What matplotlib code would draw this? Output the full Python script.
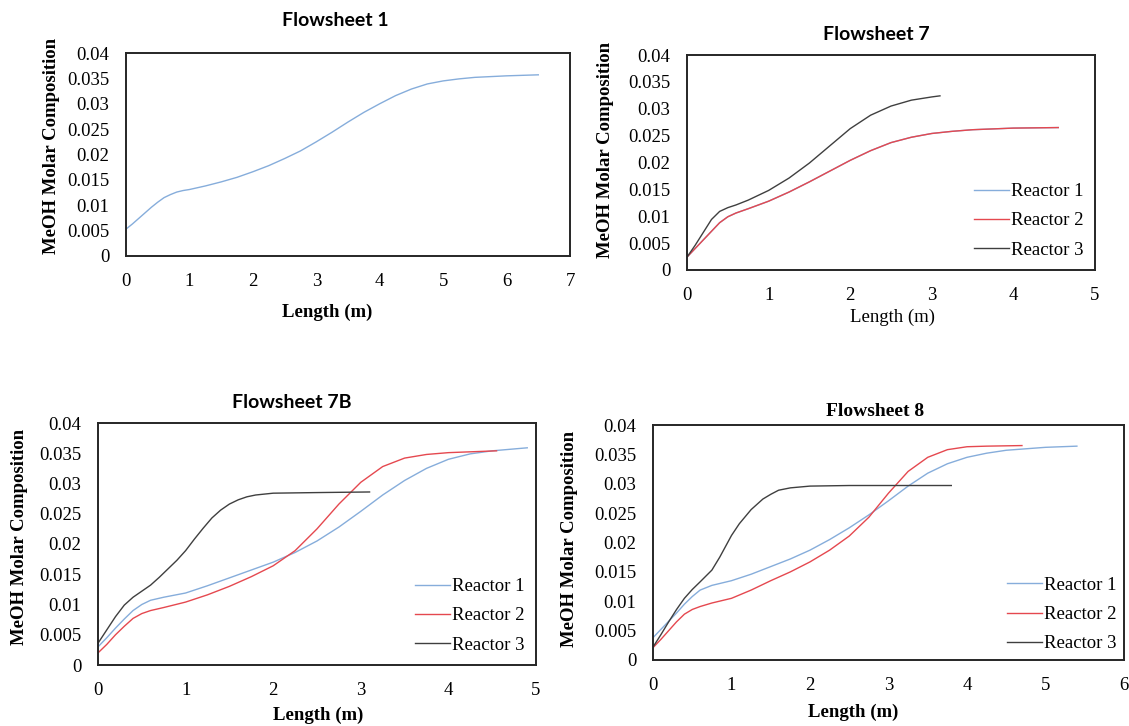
import matplotlib
matplotlib.use("Agg")
import matplotlib.pyplot as plt
from matplotlib.ticker import FuncFormatter, MultipleLocator

plt.rcParams['font.family'] = ['Liberation Serif', 'DejaVu Serif']

# Flowsheet 1
fs1_x = [0, 0.1, 0.2, 0.3, 0.4, 0.5, 0.6, 0.7, 0.8, 0.9, 1, 1.25, 1.5, 1.75, 2, 2.25,
         2.5, 2.75, 3, 3.25, 3.5, 3.75, 4, 4.25, 4.5, 4.75, 5, 5.25, 5.5, 6, 6.5]
fs1_y = [0.0053, 0.0063, 0.0074, 0.0085, 0.0096, 0.0106, 0.0115, 0.0121, 0.0126, 0.0129,
         0.0131, 0.0138, 0.0146, 0.0155, 0.0166, 0.0178, 0.0192, 0.0207, 0.0225, 0.0244,
         0.0264, 0.0283, 0.0300, 0.0316, 0.0329, 0.0339, 0.0345, 0.0349, 0.0352, 0.0355,
         0.0357]

# Flowsheet 7 (reactor 1 lies under reactor 2)
fs7_r1_x = [0, 0.1, 0.2, 0.3, 0.4, 0.5, 0.6, 0.75, 1, 1.25, 1.5, 1.75, 2, 2.25, 2.5,
            2.75, 3, 3.25, 3.5, 4, 4.55]
fs7_r1_y = [0.0024, 0.0040, 0.0056, 0.0072, 0.0088, 0.0099, 0.0106, 0.0114, 0.0128,
            0.0145, 0.0164, 0.0184, 0.0204, 0.0222, 0.0237, 0.0247, 0.0254, 0.0258,
            0.0261, 0.0264, 0.0265]
fs7_r2_x = [0, 0.1, 0.2, 0.3, 0.4, 0.5, 0.6, 0.75, 1, 1.25, 1.5, 1.75, 2, 2.25, 2.5,
            2.75, 3, 3.25, 3.5, 4, 4.55]
fs7_r2_y = [0.0024, 0.0040, 0.0056, 0.0072, 0.0088, 0.0099, 0.0106, 0.0114, 0.0128,
            0.0145, 0.0164, 0.0184, 0.0204, 0.0222, 0.0237, 0.0247, 0.0254, 0.0258,
            0.0261, 0.0264, 0.0265]
fs7_r3_x = [0, 0.1, 0.2, 0.3, 0.4, 0.5, 0.6, 0.75, 1, 1.25, 1.5, 1.75, 2, 2.25, 2.5,
            2.75, 3, 3.1]
fs7_r3_y = [0.0024, 0.0046, 0.0070, 0.0094, 0.0109, 0.0116, 0.0121, 0.0130, 0.0148,
            0.0171, 0.0199, 0.0231, 0.0263, 0.0288, 0.0305, 0.0316, 0.0322, 0.0324]

# Flowsheet 7B
fs7b_r1_x = [0, 0.1, 0.2, 0.3, 0.4, 0.5, 0.6, 0.75, 1, 1.25, 1.5, 1.75, 2, 2.25, 2.5,
             2.75, 3, 3.25, 3.5, 3.75, 4, 4.25, 4.5, 4.9]
fs7b_r1_y = [0.0030, 0.0045, 0.0061, 0.0076, 0.0090, 0.0100, 0.0107, 0.0112, 0.0119,
             0.0131, 0.0144, 0.0157, 0.0170, 0.0186, 0.0205, 0.0228, 0.0254, 0.0281,
             0.0305, 0.0325, 0.0340, 0.0349, 0.0354, 0.0359]
fs7b_r2_x = [0, 0.1, 0.2, 0.3, 0.4, 0.5, 0.6, 0.75, 1, 1.25, 1.5, 1.75, 2, 2.25, 2.5,
             2.75, 3, 3.25, 3.5, 3.75, 4, 4.55]
fs7b_r2_y = [0.0020, 0.0034, 0.0050, 0.0064, 0.0077, 0.0085, 0.0090, 0.0095, 0.0104,
             0.0116, 0.0130, 0.0146, 0.0164, 0.0189, 0.0225, 0.0266, 0.0302, 0.0328,
             0.0342, 0.0348, 0.0351, 0.0354]
fs7b_r3_x = [0, 0.1, 0.2, 0.3, 0.4, 0.5, 0.6, 0.7, 0.8, 0.9, 1, 1.1, 1.2, 1.3, 1.4, 1.5,
             1.6, 1.7, 1.8, 2, 2.5, 3.1]
fs7b_r3_y = [0.0036, 0.0058, 0.0080, 0.0099, 0.0112, 0.0122, 0.0132, 0.0145, 0.0159,
             0.0173, 0.0189, 0.0208, 0.0226, 0.0243, 0.0256, 0.0266, 0.0273, 0.0278,
             0.0281, 0.0284, 0.0285, 0.0286]

# Flowsheet 8
fs8_r1_x = [0, 0.1, 0.2, 0.3, 0.4, 0.5, 0.6, 0.75, 1, 1.25, 1.5, 1.75, 2, 2.25, 2.5,
            2.75, 3, 3.25, 3.5, 3.75, 4, 4.25, 4.5, 5, 5.4]
fs8_r1_y = [0.0038, 0.0052, 0.0066, 0.0080, 0.0095, 0.0108, 0.0119, 0.0127, 0.0135,
            0.0146, 0.0159, 0.0172, 0.0187, 0.0205, 0.0225, 0.0247, 0.0271, 0.0296,
            0.0318, 0.0334, 0.0345, 0.0352, 0.0357, 0.0362, 0.0364]
fs8_r2_x = [0, 0.1, 0.2, 0.3, 0.4, 0.5, 0.6, 0.75, 1, 1.25, 1.5, 1.75, 2, 2.25, 2.5,
            2.75, 3, 3.25, 3.5, 3.75, 4, 4.25, 4.7]
fs8_r2_y = [0.0021, 0.0035, 0.0050, 0.0065, 0.0078, 0.0086, 0.0091, 0.0097, 0.0105,
            0.0119, 0.0135, 0.0150, 0.0167, 0.0187, 0.0211, 0.0243, 0.0284, 0.0321,
            0.0345, 0.0358, 0.0363, 0.0364, 0.0365]
fs8_r3_x = [0, 0.1, 0.2, 0.3, 0.4, 0.5, 0.6, 0.75, 0.85, 1, 1.1, 1.25, 1.4, 1.5, 1.6,
            1.75, 2, 2.5, 3.8]
fs8_r3_y = [0.0022, 0.0043, 0.0065, 0.0086, 0.0105, 0.0120, 0.0133, 0.0153, 0.0175,
            0.0212, 0.0232, 0.0256, 0.0274, 0.0282, 0.0289, 0.0293, 0.0296, 0.0297,
            0.0297]

labels = ['Reactor 1', 'Reactor 2', 'Reactor 3']
colors = ['#86ADDB', '#E5484F', '#3F3F3F']

W, H = 1129, 726
fig = plt.figure(figsize=(W / 100, H / 100), dpi=100)


def px_axes(l, t, r, b):
    return fig.add_axes([l / W, 1 - b / H, (r - l) / W, (b - t) / H])


def style(ax, xmax):
    ax.set_xlim(0, xmax)
    ax.set_ylim(0, 0.04)
    ax.xaxis.set_major_locator(MultipleLocator(1))
    ax.yaxis.set_major_locator(MultipleLocator(0.005))
    ax.yaxis.set_major_formatter(FuncFormatter(lambda v, p: '%g' % round(v, 4)))
    ax.tick_params(length=0, labelsize=13.5, pad=12)
    for s in ax.spines.values():
        s.set_linewidth(1.4)
        s.set_color('#262626')


def ftext(x, y, s, **kw):
    fig.text(x / W, 1 - y / H, s, ha='center', va='center', **kw)


# panel 1
ax1 = px_axes(126, 53, 570, 256)
ax1.plot(fs1_x, fs1_y, color=colors[0], lw=1.0)
style(ax1, 7)
ftext(335, 21, 'Flowsheet 1', family=['Lato', 'DejaVu Sans'], fontweight='bold', fontsize=14)
ftext(327, 312, 'Length (m)', fontweight='bold', fontsize=13.5)
ftext(52, 146, 'MeOH Molar Composition', fontweight='bold', fontsize=13.5, rotation=90)

# panel 2
ax2 = px_axes(687, 55, 1095, 270)
ax2.plot(fs7_r1_x, fs7_r1_y, color=colors[0], lw=1.0, label=labels[0])
ax2.plot(fs7_r2_x, fs7_r2_y, color=colors[1], lw=1.0, label=labels[1])
ax2.plot(fs7_r3_x, fs7_r3_y, color=colors[2], lw=1.0, label=labels[2])
style(ax2, 5)
ftext(876, 34, 'Flowsheet 7', family=['Lato', 'DejaVu Sans'], fontweight='bold', fontsize=14)
ftext(893, 317, 'Length (m)', fontsize=13.5)
ftext(606, 150, 'MeOH Molar Composition', fontweight='bold', fontsize=13.5, rotation=90)

# panel 3
ax3 = px_axes(98, 423, 536, 665)
ax3.plot(fs7b_r1_x, fs7b_r1_y, color=colors[0], lw=1.0, label=labels[0])
ax3.plot(fs7b_r2_x, fs7b_r2_y, color=colors[1], lw=1.0, label=labels[1])
ax3.plot(fs7b_r3_x, fs7b_r3_y, color=colors[2], lw=1.0, label=labels[2])
style(ax3, 5)
ftext(292, 403, 'Flowsheet 7B', family=['Lato', 'DejaVu Sans'], fontweight='bold', fontsize=14)
ftext(318, 715, 'Length (m)', fontweight='bold', fontsize=13.5)
ftext(20, 537, 'MeOH Molar Composition', fontweight='bold', fontsize=13.5, rotation=90)

# panel 4
ax4 = px_axes(653, 425, 1124, 660)
ax4.plot(fs8_r1_x, fs8_r1_y, color=colors[0], lw=1.0, label=labels[0])
ax4.plot(fs8_r2_x, fs8_r2_y, color=colors[1], lw=1.0, label=labels[1])
ax4.plot(fs8_r3_x, fs8_r3_y, color=colors[2], lw=1.0, label=labels[2])
style(ax4, 6)
ftext(875, 411, 'Flowsheet 8', fontweight='bold', fontsize=14)
ftext(853, 712, 'Length (m)', fontweight='bold', fontsize=13.5)
ftext(569, 539, 'MeOH Molar Composition', fontweight='bold', fontsize=13.5, rotation=90)

for ax, pad in ((ax2, 0.2), (ax3, 0.2), (ax4, 0.0)):
    ax.legend(loc='lower right', frameon=False, fontsize=13.5, handlelength=1.9,
              handletextpad=0.1, labelspacing=0.65, borderaxespad=pad)

fig.savefig('out.png', dpi=100)
